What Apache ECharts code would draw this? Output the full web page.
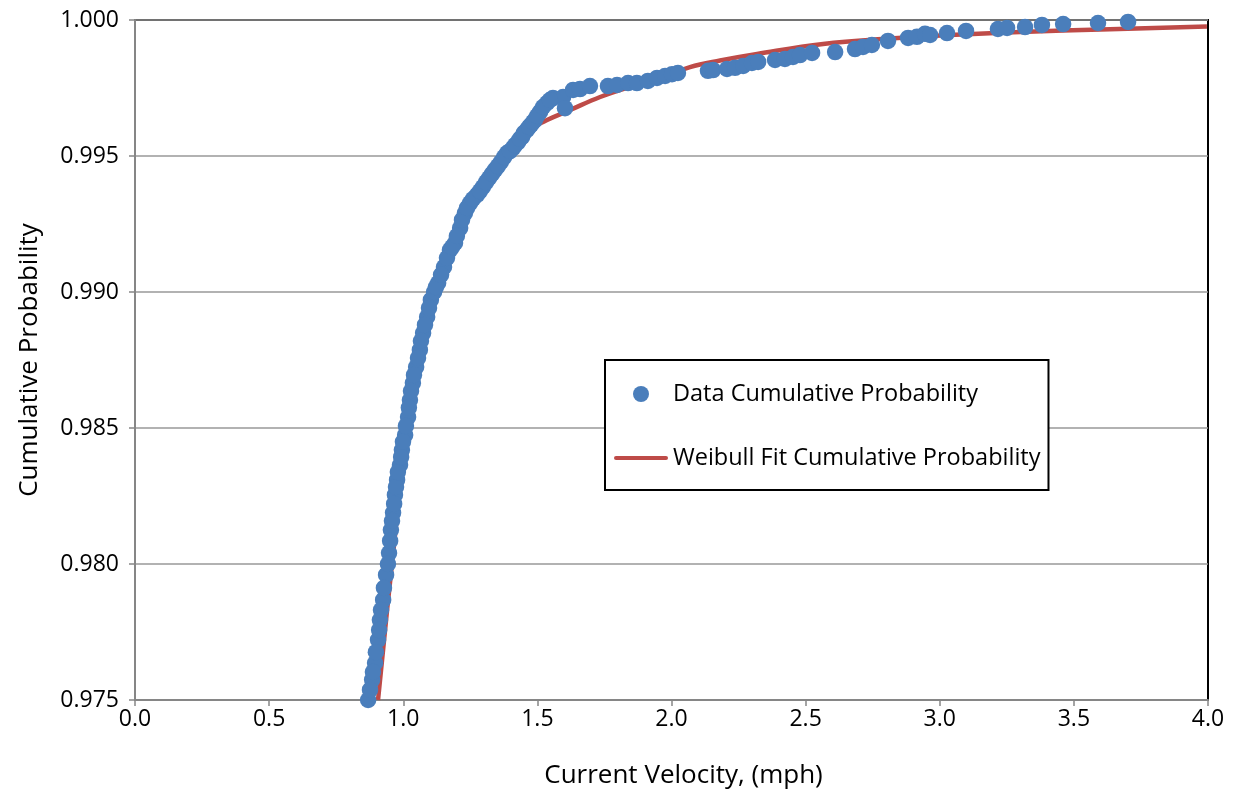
<!DOCTYPE html>
<html>
<head>
<meta charset="utf-8">
<script src="https://cdn.jsdelivr.net/npm/echarts@6/dist/echarts.min.js"></script>
<style>
html,body{margin:0;padding:0;background:#fff;}
#chart{width:1236px;height:797px;}
</style>
</head>
<body>
<div id="chart"></div>
<script>
// Data cumulative probability (velocity mph, probability)
const dataVelocity = [
  0.869,0.884,0.895,0.906,0.913,0.925,0.936,0.947,0.954,0.962,0.969,0.977,0.988,0.995,1.007,1.018,1.025,1.036,1.048,1.062,
  1.074,1.089,1.103,1.115,1.130,1.152,1.174,1.193,1.212,1.230,1.249,1.275,1.297,1.320,1.342,1.364,1.387,1.409,1.428,1.443,
  1.461,1.476,1.491,1.510,1.536,1.558,
  1.596,1.603,1.633,1.659,1.696,1.763,1.797,1.838,1.871,1.912,1.946,1.976,2.002,2.024,
  2.136,2.155,2.207,2.237,2.267,2.300,2.323,2.386,2.423,2.453,2.479,2.524,2.610,2.684,2.714,2.747,2.807,2.882,2.915,2.945,
  2.964,3.027,3.098,3.217,3.251,3.318,3.381,3.460,3.590,3.702
];
const dataProbability = [
  0.97500,0.97574,0.97636,0.97721,0.97794,0.97868,0.97960,0.98040,0.98125,0.98188,0.98254,0.98309,0.98364,0.98419,0.98474,0.98540,0.98603,0.98665,0.98724,0.98787,
  0.98849,0.98908,0.98971,0.99000,0.99033,0.99092,0.99154,0.99180,0.99235,0.99290,0.99327,0.99357,0.99386,0.99419,0.99449,0.99478,0.99511,0.99529,0.99551,0.99570,
  0.99596,0.99614,0.99632,0.99662,0.99695,0.99713,
  0.99717,0.99676,0.99743,0.99746,0.99757,0.99757,0.99761,0.99768,0.99768,0.99776,0.99787,0.99794,0.99801,0.99805,
  0.99813,0.99816,0.99820,0.99824,0.99831,0.99842,0.99846,0.99853,0.99857,0.99864,0.99871,0.99879,0.99882,0.99893,0.99901,0.99908,0.99923,0.99934,0.99938,0.99949,
  0.99945,0.99952,0.99960,0.99967,0.99971,0.99974,0.99982,0.99985,0.99989,0.99993
];
// further points read along the dense part of the data band
const denseVelocity = [
  0.876,0.887,0.898,0.910,0.917,0.928,0.943,0.951,0.958,0.966,0.973,0.980,0.992,0.999,1.010,1.021,1.029,1.040,1.055,1.066,
  1.081,1.096,1.122,1.141,1.163,1.182,1.200,1.219,1.238,1.260,1.286,1.309,1.331,1.353,1.376,1.398,1.417,1.435,1.450,1.469,
  1.484,1.499,1.521,1.547
];
const denseProbability = [
  0.97537,0.97603,0.97676,0.97757,0.97831,0.97912,0.98000,0.98085,0.98158,0.98221,0.98283,0.98338,0.98393,0.98449,0.98507,0.98574,0.98636,0.98695,0.98757,0.98820,
  0.98879,0.98941,0.99018,0.99063,0.99125,0.99165,0.99206,0.99265,0.99309,0.99342,0.99371,0.99404,0.99434,0.99463,0.99496,0.99518,0.99540,0.99563,0.99585,0.99607,
  0.99625,0.99647,0.99680,0.99706
];
// Weibull fit cumulative probability
const fitVelocity = [0.906,0.958,1.018,1.122,1.230,1.361,1.454,1.536,1.622,1.734,1.845,1.968,2.069,2.181,2.319,2.565,2.815,3.038,3.460,3.996];
const fitProbability = [0.97500,0.98000,0.98500,0.99000,0.99301,0.99467,0.99585,0.99632,0.99669,0.99717,0.99754,0.99790,0.99827,0.99851,0.99875,0.99912,0.99932,0.99945,0.99961,0.99976];

const seriesNames = ['Data Cumulative Probability', 'Weibull Fit Cumulative Probability'];
const xTitle = 'Current Velocity, (mph)';
const yTitle = 'Cumulative Probability';

const FONT = '"Open Sans", "Noto Sans", sans-serif';
const scatterData = dataVelocity.map((v, i) => [v, dataProbability[i]])
  .concat(denseVelocity.map((v, i) => [v, denseProbability[i]]));
const chart = echarts.init(document.getElementById('chart'), null, {renderer: 'canvas'});
chart.setOption({
  backgroundColor: '#ffffff',
  animation: false,
  grid: {left: 135, right: 28, top: 20, bottom: 97, show: true, borderColor: '#000', borderWidth: 2, backgroundColor: '#fff'},
  legend: {
    orient: 'vertical',
    left: 605, top: 360,
    padding: [22, 8, 20, 9],
    itemGap: 40,
    itemWidth: 54, itemHeight: 16,
    borderColor: '#000', borderWidth: 2, backgroundColor: '#fff',
    textStyle: {fontFamily: FONT, fontSize: 23.5, color: '#000', lineHeight: 20},
    data: [
      {name: seriesNames[0], icon: 'circle'},
      {name: seriesNames[1], icon: 'path://M2,0 L52,0 A2,2 0 0 1 52,4 L2,4 A2,2 0 0 1 2,0 Z', itemStyle: {color: '#be4b48'}}
    ]
  },
  xAxis: {
    type: 'value', min: 0, max: 4, interval: 0.5,
    name: xTitle, nameLocation: 'middle', nameGap: 63,
    nameTextStyle: {fontFamily: FONT, fontSize: 26, color: '#000', padding: [0, 0, 0, 24]},
    axisLine: {show: true, lineStyle: {color: '#868686', width: 2}},
    axisTick: {show: true, inside: false, length: 6, lineStyle: {color: '#868686', width: 1.5}},
    axisLabel: {fontFamily: FONT, fontSize: 23, color: '#000', margin: 8, formatter: v => v.toFixed(1)},
    splitLine: {show: false}
  },
  yAxis: {
    type: 'value', min: 0.975, max: 1.0, interval: 0.005,
    name: yTitle, nameLocation: 'middle', nameGap: 92,
    nameTextStyle: {fontFamily: FONT, fontSize: 26, color: '#000'},
    axisLine: {show: true, lineStyle: {color: '#868686', width: 2}},
    axisTick: {show: true, inside: false, length: 6, lineStyle: {color: '#868686', width: 1.5}},
    axisLabel: {fontFamily: FONT, fontSize: 23, color: '#000', margin: 16, formatter: v => v.toFixed(3)},
    splitLine: {show: true, lineStyle: {color: '#999999', width: 1.5}}
  },
  series: [
    {
      name: seriesNames[0], type: 'scatter', z: 3,
      symbol: 'circle', symbolSize: 16.5,
      itemStyle: {color: '#4a7ebb', opacity: 1},
      data: scatterData
    },
    {
      name: seriesNames[1], type: 'line', z: 2,
      smooth: 0.4, showSymbol: false, symbol: 'none',
      lineStyle: {color: '#be4b48', width: 4.5},
      itemStyle: {color: '#be4b48'},
      data: fitVelocity.map((v, i) => [v, fitProbability[i]])
    }
  ]
});
</script>
</body>
</html>
